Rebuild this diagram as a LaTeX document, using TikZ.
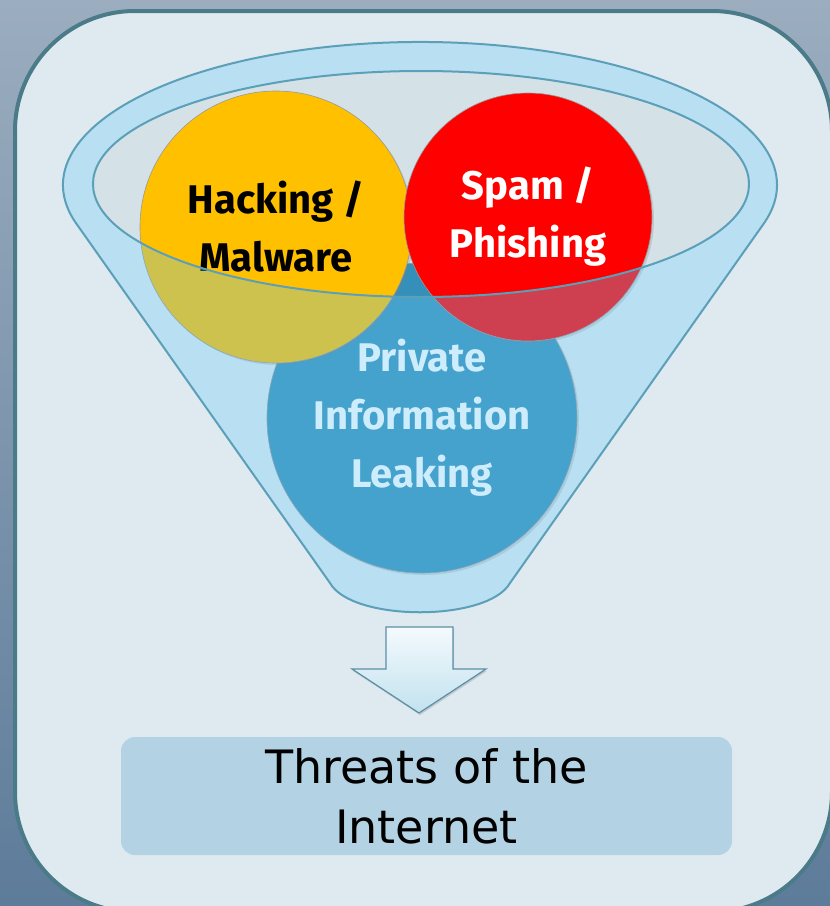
\documentclass[tikz,border=0pt]{standalone}
\usepackage{fontspec}
\setmainfont{Fira Sans}
\newfontfamily\notefont{DejaVu Sans}
\usetikzlibrary{shapes, positioning, calc, shadows}

\definecolor{bgtop}{HTML}{9BADBF}
\definecolor{bgbottom}{HTML}{5D7C9A}
\definecolor{panelfill}{HTML}{DFEAF0}
\definecolor{panelline}{HTML}{4B7B89}
\definecolor{openfill}{HTML}{D4E2E8}
\definecolor{funnelblue}{HTML}{69C8F7}
\definecolor{funnelline}{HTML}{5B9FB9}
\definecolor{hackyellow}{HTML}{FFC000}
\definecolor{spamred}{HTML}{FF0000}
\definecolor{leakblue}{HTML}{3490B8}
\definecolor{arrowtop}{HTML}{F4FAFD}
\definecolor{arrowbottom}{HTML}{C2E2EF}
\definecolor{arrowline}{HTML}{5B8FA5}
\definecolor{boxblue}{HTML}{B3D3E4}

\begin{document}
\begin{tikzpicture}
            [x=1pt, y=-1pt,
            threat/.style={circle, inner sep=0pt, align=center, draw=black!40, line width=0.6pt,
                drop shadow={opacity=0.25, shadow xshift=2pt, shadow yshift=-2pt},
                font=\fontsize{40}{58}\selectfont\bfseries},
            funnel/.style={even odd rule, fill=funnelblue, fill opacity=0.32, draw=funnelline, line width=2pt},
            downarrow/.style={top color=arrowtop, bottom color=arrowbottom, draw=arrowline, line width=1.2pt,
                drop shadow={opacity=0.3, shadow xshift=1pt, shadow yshift=-2pt}},
            result/.style={rectangle, rounded corners=14pt, fill=boxblue, minimum width=611pt, minimum height=118pt,
                align=center, font=\notefont\fontsize{46}{60}\selectfont}]
            \useasboundingbox (0,0) rectangle (830,906);
            \clip (0,0) rectangle (830,906);
            \shade[top color=bgtop, bottom color=bgbottom] (0,0) rectangle (830,906);
            \draw[fill=panelfill, draw=panelline, line width=4pt, rounded corners=120pt] (15,11) rectangle (832,912);

            % opening of the funnel
            \fill[openfill] (421,184) ellipse [x radius=328, y radius=113];

            \node[threat, minimum size=310pt, fill=leakblue, text=white] (leak) at (422,418) {Private\\Information\\Leaking};
            \node[threat, minimum size=272pt, fill=hackyellow] (hack) at (276,227) {Hacking /\\Malware};
            \node[threat, minimum size=248pt, fill=spamred, text=white] (spam) at (528,217) {Spam /\\Phishing};

            % front of the funnel
            \path[funnel] (75.2,222) arc [start angle=165, end angle=375, x radius=357, y radius=143]
                -- (510,583) .. controls (488,622) and (352,622) .. (330,583) -- cycle
                (421,184) ellipse [x radius=328, y radius=113];

            \draw[downarrow] (386,627) -- (453,627) -- (453,669) -- (486,669) -- (419,713) -- (352,669) -- (386,669) -- cycle;

            \node[result] (threats) at (426.5,796) {Threats of the\\Internet};
        \end{tikzpicture}
\end{document}
